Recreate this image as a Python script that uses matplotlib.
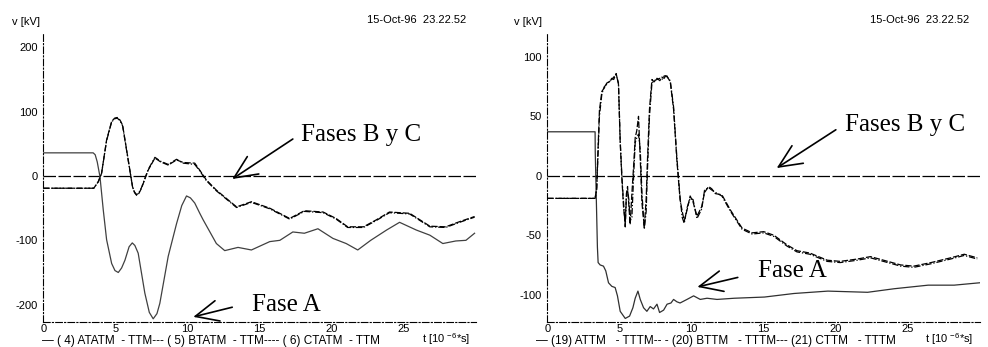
import matplotlib
matplotlib.use("Agg")
import matplotlib.pyplot as plt

plt.rcParams["font.family"] = ["Liberation Sans", "DejaVu Sans"]
plt.rcParams["axes.unicode_minus"] = False

# left panel: ATATM / BTATM / CTATM, t in 10^-6 s, v in kV
t_a1 = [0, 3.46, 3.6, 3.74, 3.93, 4.16, 4.39, 4.74, 4.97, 5.2, 5.43, 5.66, 5.95, 6.17, 6.35, 6.58,
        7.04, 7.35, 7.62, 7.88, 8.08, 8.66, 9.24, 9.6, 9.93, 10.2, 10.5, 10.85, 11.08, 12.0,
        12.58, 13.5, 14.43, 15.7, 16.4, 17.3, 18.1, 19.04, 20.08, 21.0, 21.8, 22.7, 23.8, 24.7,
        25.86, 26.8, 27.7, 28.6, 29.3, 29.9]
v_a1 = [36, 36, 33, 22, -1, -53, -99, -136, -147, -150, -143, -131, -110, -104, -108, -120,
        -182, -212, -222, -214, -198, -125, -74, -46, -31, -34, -42, -58, -68, -105,
        -116, -111, -115, -102, -100, -87, -89, -82, -97, -105, -115, -100, -84, -72,
        -84, -92, -105, -101, -100, -89]
t_b1 = [0, 3.5, 3.81, 4.04, 4.39, 4.74, 4.95, 5.13, 5.32, 5.5, 5.89, 6.19, 6.33, 6.47, 6.63,
        6.81, 7.27, 7.74, 8.13, 8.66, 9.24, 9.7, 10.5, 10.85, 11.3, 12.0, 13.4, 14.43, 15.7,
        17.08, 18.1, 19.4, 20.3, 21.1, 22.2, 23.1, 24.0, 25.4, 26.8, 27.9, 28.86, 29.9]
v_b1 = [-19, -19, -9, 4, 56, 85, 90, 91, 87, 79, 25, -17, -26, -30, -27,
        -19, 9, 28, 22, 17, 25, 21, 20, 9, -6, -22, -48, -40, -50,
        -66, -54, -56, -66, -79, -79, -68, -56, -58, -78, -79, -71, -63]
v_c1 = [-19, -19, -9, 4, 55, 84, 89, 90, 86, 78, 24, -17, -25, -29, -26,
        -18, 10, 29, 23, 18, 26, 20, 18, 8, -7, -23, -49, -41, -51,
        -67, -55, -57, -67, -80, -80, -69, -57, -59, -79, -80, -72, -64]

# right panel: ATTM / BTTM / CTTM
t_a2 = [0, 3.31, 3.32, 3.47, 3.52, 3.66, 3.89, 4.05, 4.24, 4.47, 4.7, 4.86, 5.05, 5.4, 5.7,
        5.93, 6.09, 6.28, 6.44, 6.67, 6.9, 7.13, 7.36, 7.6, 7.78, 8.06, 8.3, 8.57, 8.75,
        8.98, 9.2, 9.68, 10.14, 10.6, 11.07, 11.76, 12.96, 15.05, 17.1, 19.45, 22.2, 24.05,
        26.4, 28.2, 29.97]
v_a2 = [37, 37, 20, -60, -73, -75, -76, -80, -90, -93, -94, -101, -114, -120, -118,
        -111, -103, -97, -104, -111, -114, -110, -112, -108, -115, -113, -108, -107, -104,
        -106, -107, -104, -101, -104, -103, -104, -103, -102, -99, -97, -98, -95,
        -92, -92, -90]
t_b2 = [0, 3.31, 3.42, 3.61, 3.78, 3.95, 4.12, 4.3, 4.47, 4.6, 4.77, 4.93, 5.05, 5.17, 5.28,
        5.4, 5.48, 5.56, 5.65, 5.74, 5.86, 6.0, 6.09, 6.2, 6.32, 6.44, 6.56, 6.72, 6.85,
        6.94, 7.08, 7.25, 7.4, 7.6, 7.8, 7.94, 8.1, 8.24, 8.52, 8.75, 8.98, 9.2, 9.35, 9.49,
        9.68, 9.9, 10.1, 10.37, 10.7, 10.9, 11.18, 11.4, 11.65, 12.1, 12.7, 13.5, 14.2, 15.0,
        15.7, 16.6, 17.3, 18.2, 19.4, 20.3, 21.5, 22.4, 23.3, 24.5, 25.4, 26.6, 27.96, 28.9,
        29.8]
v_b2 = [-19, -19, -10, 55, 71, 74, 78, 79, 82, 81, 86, 77, 28, -3, -26,
        -40, -15, -9, -25, -41, -15, 12, 32, 38, 50, 14, -23, -43, -20,
        13, 56, 81, 79, 82, 80, 83, 82, 85, 79, 56, 13, -20, -30, -38,
        -29, -17, -22, -34, -26, -14, -9, -11, -15, -16, -29, -44, -48, -47,
        -50, -58, -63, -65, -71, -72, -70, -68, -71, -75, -76, -73, -69, -66,
        -69]
v_c2 = [-19, -19, -12, 50, 69, 75, 77, 80, 81, 83, 85, 78, 30, -1, -22,
        -43, -18, -12, -20, -38, -35, 5, 28, 32, 35, 22, -15, -45, -30,
        5, 50, 78, 80, 81, 82, 81, 84, 84, 80, 58, 15, -18, -35, -40,
        -27, -19, -20, -36, -28, -12, -10, -12, -14, -17, -30, -45, -49, -48,
        -51, -59, -64, -66, -72, -73, -71, -69, -72, -76, -77, -74, -70, -67,
        -70]

y_ticks1 = [-200, -100, 0, 100, 200]
y_ticks2 = [-100, -50, 0, 50, 100]
x_ticks = [0, 5, 10, 15, 20, 25]

fig = plt.figure(figsize=(9.88, 3.47), dpi=100)
ax1 = fig.add_axes([0.0438, 0.072, 0.438, 0.836])
ax2 = fig.add_axes([0.554, 0.072, 0.438, 0.836])

dashdot = (0, (6, 2, 1, 2))
fs = 8


def style_axis(ax, ylim, yticks):
    ax.set_xlim(0, 30)
    ax.set_ylim(*ylim)
    ax.set_xticks(x_ticks)
    ax.set_yticks(yticks)
    ax.tick_params(length=0, labelsize=fs, pad=1.5)
    ax.tick_params(axis="y", pad=4)
    for s in ["top", "right"]:
        ax.spines[s].set_visible(False)
    for s in ["left", "bottom"]:
        ax.spines[s].set_linestyle(dashdot)
        ax.spines[s].set_linewidth(0.8)
    ax.axhline(0, color="black", lw=0.9, dashes=(10, 2), zorder=1)


def arrow(ax, text, tip, tail, xy_text):
    ax.annotate("", xy=tip, xytext=tail,
                arrowprops=dict(arrowstyle="->,head_length=1.1,head_width=0.5",
                                mutation_scale=15, lw=1.2, color="black", shrinkA=0, shrinkB=0),
                annotation_clip=False)
    ax.text(xy_text[0], xy_text[1], text, fontsize=18, family="Liberation Serif",
            ha="left", va="center")


#1. Left panel
ax1.plot(t_a1, v_a1, color="#404040", lw=0.9)
ax1.plot(t_b1, v_b1, color="black", lw=0.9, dashes=(5, 1.5))
ax1.plot(t_b1, v_c1, color="black", lw=0.9, dashes=(5, 1.5, 1, 1.5))
style_axis(ax1, (-227, 224), y_ticks1)
arrow(ax1, "Fases B y C", (13.1, -4.7), (17.3, 57.5), (17.9, 63))
arrow(ax1, "Fase A", (10.4, -219), (13.1, -204), (14.5, -200))

#2. Right panel
ax2.plot(t_a2, v_a2, color="#303030", lw=0.9)
ax2.plot(t_b2, v_b2, color="black", lw=0.9, dashes=(5, 1.5))
ax2.plot(t_b2, v_c2, color="black", lw=0.9, dashes=(5, 1.5, 1, 1.5))
style_axis(ax2, (-123, 121), y_ticks2)
arrow(ax2, "Fases B y C", (15.9, 6.5), (20.0, 38.7), (20.65, 43))
arrow(ax2, "Fase A", (10.4, -93.5), (13.2, -85.5), (14.6, -80.4))

# header / axis texts
for x_v, x_date in [(12, 466), (514, 969)]:
    fig.text(x_v / 988, 1 - 22 / 347, "v [kV]", fontsize=fs, va="center")
    fig.text(x_date / 988, 1 - 20 / 347, "15-Oct-96  23.22.52", fontsize=fs, va="center", ha="right")
for x_t in [422, 925]:
    fig.text(x_t / 988, 1 - 339 / 347, r"t [10 $^{\mathregular{-6}}$*s]", fontsize=fs, va="center")

fig.text(42 / 988, 1 - 341 / 347, "\u2014 ( 4) ATATM  - TTM--- ( 5) BTATM  - TTM---- ( 6) CTATM  - TTM",
         fontsize=8.5, va="center")
fig.text(536 / 988, 1 - 341 / 347, "\u2014 (19) ATTM   - TTTM-- - (20) BTTM   - TTTM--- (21) CTTM   - TTTM",
         fontsize=8.5, va="center")

fig.savefig("out.png", dpi=100)
